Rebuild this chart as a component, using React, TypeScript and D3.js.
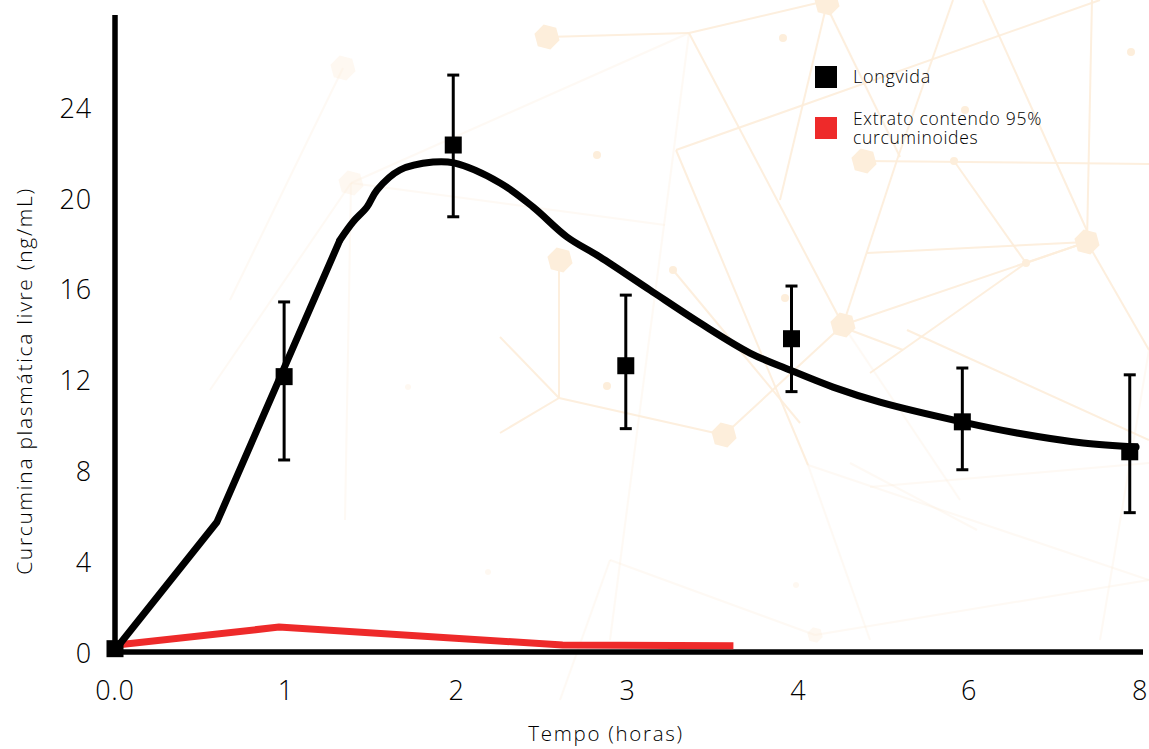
import React from "react";
import * as d3 from "d3";

// ---- data ----
const xTickLabels = ["0.0", "1", "2", "3", "4", "6", "8"];
const yTickValues = [0, 4, 8, 12, 16, 20, 24];

const longvidaX = [0, 0.99, 1.98, 2.99, 3.96, 4.96, 5.94];
const longvidaMean = [0.19, 12.17, 22.37, 12.65, 13.84, 10.18, 8.86];
const longvidaHigh = [0.19, 15.46, 25.45, 15.76, 16.16, 12.55, 12.25];
const longvidaLow = [0.19, 8.5, 19.21, 9.88, 11.51, 8.07, 6.18];

// Longvida fitted curve: straight rising part, then smooth part
const riseX = [0, 0.597, 1.317];
const riseY = [0.13, 5.77, 18.19];
const curveX = [1.317, 1.393, 1.475, 1.534, 1.668, 1.862, 1.984, 2.254, 2.447, 2.646, 2.839, 3.132, 3.425, 3.717, 3.951, 4.203, 4.478, 4.964, 5.28, 5.667, 5.977];
const curveY = [18.19, 18.98, 19.64, 20.39, 21.27, 21.62, 21.58, 20.7, 19.64, 18.32, 17.44, 15.98, 14.53, 13.21, 12.46, 11.71, 11.05, 10.17, 9.69, 9.25, 9.07];

// Extrato 95% curcuminoides line
const extratoX = [0.01, 0.96, 2.62, 3.62];
const extratoY = [0.35, 1.14, 0.35, 0.32];

const legendLabels = ["Longvida", "Extrato contendo 95%|curcuminoides"];

// decorative background network (faint)
const bgNodes: [number, number, number, number][] = [
  [343, 68, 13, 1], [547, 37, 13, 1], [827, 3, 13, 1], [351, 183, 13, 1], [560, 260, 13, 1],
  [864, 161, 13, 1], [1087, 242, 13, 1], [843, 325, 13, 1], [724, 435, 13, 1],
  [597, 155, 4, 0], [673, 270, 4, 0], [607, 386, 4, 0], [785, 298, 4, 0], [783, 38, 4, 0],
  [1131, 52, 4, 0], [965, 110, 4, 0], [954, 161, 4, 0], [1026, 263, 4, 0], [408, 387, 3, 0],
  [796, 585, 3, 0], [488, 572, 3, 0], [815, 635, 8, 1],
];
const bgEdges: [number, number, number, number][] = [
  [547, 37, 689, 33], [689, 33, 830, 0], [689, 33, 351, 183], [689, 33, 610, 640],
  [689, 33, 843, 325], [351, 183, 665, 225], [676, 150, 1100, 0], [676, 150, 808, 465],
  [559, 260, 559, 398], [559, 398, 500, 433], [559, 398, 500, 337], [673, 270, 800, 423],
  [864, 161, 1149, 164], [954, 161, 1026, 263], [1026, 263, 1087, 242], [1026, 263, 870, 373],
  [1087, 242, 867, 253], [1087, 242, 1149, 350], [1092, 0, 1087, 242], [827, 3, 780, 200],
  [830, 13, 900, 157], [953, 0, 897, 160], [983, 0, 1088, 233], [897, 160, 843, 325],
  [850, 330, 903, 350], [870, 487, 1149, 463], [850, 463, 977, 530], [907, 330, 1149, 440],
  [843, 325, 1087, 242], [843, 325, 724, 435], [724, 435, 559, 398], [808, 465, 1149, 580],
  [1149, 580, 815, 635], [815, 635, 610, 560], [843, 325, 960, 500], [343, 68, 230, 300],
  [351, 183, 345, 520], [351, 183, 210, 390], [610, 560, 560, 700], [808, 465, 870, 640],
  [1149, 350, 1100, 640],
];

const W = 1149;
const H = 749;
const RED = "#ee2a2a";
const BG = "#fdeedb";
const FONT = "'Open Sans', 'Noto Sans', sans-serif";

function hexPath(cx: number, cy: number, r: number) {
  const pts = d3.range(6).map((i) => {
    const a = (Math.PI / 3) * i + Math.PI / 12;
    return [cx + r * Math.cos(a), cy + r * Math.sin(a)];
  });
  return "M" + pts.map((p) => p.join(",")).join("L") + "Z";
}

function faint(px: number, py: number) {
  if (px < 420 || py > 470) return 0.3;
  return 0.9;
}

export default function App() {
  const x = d3.scaleLinear().domain([0, 6]).range([115, 1140]);
  const y = d3.scaleLinear().domain([0, 24]).range([653, 108]);

  const rise = d3
    .line<number>()
    .x((_, i) => x(riseX[i]))
    .y((d) => y(d));
  const smooth = d3
    .line<number>()
    .x((_, i) => x(curveX[i]))
    .y((d) => y(d))
    .curve(d3.curveCatmullRom.alpha(0.5));
  const straight = d3
    .line<number>()
    .x((_, i) => x(extratoX[i]))
    .y((d) => y(d));

  const sq = 17;
  const cap = 6;
  const [leg2a, leg2b] = legendLabels[1].split("|");

  return (
    <svg
      width={W}
      height={H}
      style={{ position: "absolute", left: 0, top: 0, background: "#fff" }}
      fontFamily={FONT}
    >
      {/* background decoration */}
      <g>
        {bgEdges.map((e, i) => (
          <line key={"e" + i} x1={e[0]} y1={e[1]} x2={e[2]} y2={e[3]} stroke={BG} strokeWidth={2}
            opacity={Math.min(faint(e[0], e[1]), faint(e[2], e[3]))} />
        ))}
        {bgNodes.map((n, i) =>
          n[3] === 1 ? (
            <path key={"n" + i} d={hexPath(n[0], n[1], n[2])} fill={BG} opacity={faint(n[0], n[1]) + 0.1} />
          ) : (
            <circle key={"n" + i} cx={n[0]} cy={n[1]} r={n[2]} fill={BG} opacity={faint(n[0], n[1]) + 0.1} />
          )
        )}
      </g>

      {/* axes */}
      <line x1={115} y1={15} x2={115} y2={655} stroke="#000" strokeWidth={5.5} />
      <line x1={112} y1={652} x2={1143} y2={652} stroke="#000" strokeWidth={5.5} />

      {yTickValues.map((v) => (
        <text key={"y" + v} x={92} y={y(v)} dy="0.36em" textAnchor="end" fontSize={27} fontWeight={300} letterSpacing={0.8} fill="#000">
          {v}
        </text>
      ))}
      {xTickLabels.map((t, i) => (
        <text key={"x" + i} x={x(i)} y={690} dy="0.36em" textAnchor="middle" fontSize={27} fontWeight={300} letterSpacing={0.8} fill="#000">
          {t}
        </text>
      ))}

      <text x={606} y={734} dy="0.36em" textAnchor="middle" fontSize={20.5} fontWeight={300} letterSpacing={1.7} fill="#000">
        Tempo (horas)
      </text>
      <text
        transform={`translate(24,381) rotate(-90)`}
        dy="0.36em"
        textAnchor="middle"
        fontSize={21}
        fontWeight={300}
        letterSpacing={1.7}
        fill="#000"
      >
        Curcumina plasmática livre (ng/mL)
      </text>

      {/* series */}
      <path d={straight(extratoY) || ""} fill="none" stroke={RED} strokeWidth={7} />
      <path d={rise(riseY) || ""} fill="none" stroke="#000" strokeWidth={7} strokeLinejoin="round" />
      <path d={smooth(curveY) || ""} fill="none" stroke="#000" strokeWidth={7} strokeLinejoin="round" strokeLinecap="round" />

      {longvidaX.map((xv, i) => (
        <g key={"p" + i}>
          {longvidaHigh[i] - longvidaLow[i] > 0.5 && (
            <g stroke="#000" strokeWidth={3}>
              <line x1={x(xv)} x2={x(xv)} y1={y(longvidaHigh[i])} y2={y(longvidaLow[i])} />
              <line x1={x(xv) - cap} x2={x(xv) + cap} y1={y(longvidaHigh[i])} y2={y(longvidaHigh[i])} />
              <line x1={x(xv) - cap} x2={x(xv) + cap} y1={y(longvidaLow[i])} y2={y(longvidaLow[i])} />
            </g>
          )}
          <rect x={x(xv) - sq / 2} y={y(longvidaMean[i]) - sq / 2} width={sq} height={sq} fill="#000" />
        </g>
      ))}

      {/* legend */}
      <rect x={815} y={66} width={22} height={22} fill="#000" />
      <text x={853} y={77} dy="0.36em" fontSize={18} fontWeight={300} letterSpacing={0.7} fill="#000">
        {legendLabels[0]}
      </text>
      <rect x={815} y={117} width={22} height={22} fill={RED} />
      <text x={853} y={119} dy="0.36em" fontSize={17.5} fontWeight={300} letterSpacing={0.7} fill="#000">
        <tspan x={853}>{leg2a}</tspan>
        <tspan x={853} dy="18.5">{leg2b}</tspan>
      </text>
    </svg>
  );
}
